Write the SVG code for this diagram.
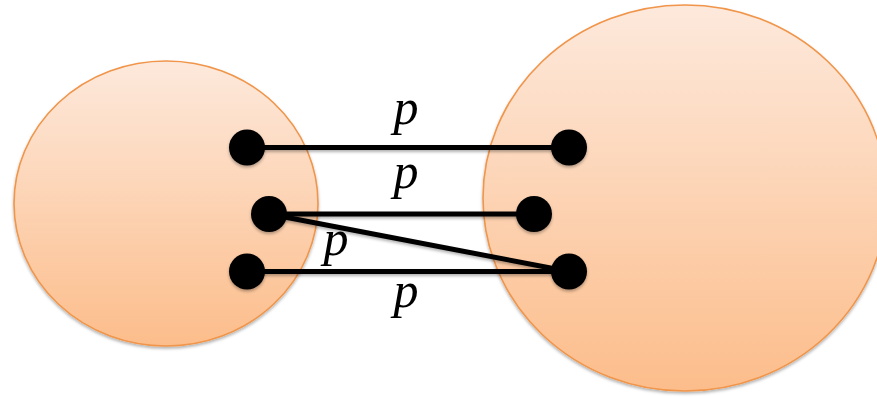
<svg xmlns="http://www.w3.org/2000/svg" width="877" height="397" viewBox="0 0 877 397">
<style>
.blob{stroke:#f0954a;stroke-width:1.6;filter:url(#sh)}
.dot{fill:#000;filter:url(#sh)}
.edge{stroke:#000;stroke-width:5;fill:none;filter:url(#sh)}
.lbl{font-family:"Liberation Serif","Times New Roman",serif;font-style:italic;font-size:50px;fill:#000;text-anchor:middle}
</style>
<defs>
<linearGradient id="g" x1="0" y1="0" x2="0" y2="1">
<stop offset="0" stop-color="#fde9dc"/>
<stop offset="1" stop-color="#fcbd8b"/>
</linearGradient>
<filter id="sh" filterUnits="userSpaceOnUse" x="0" y="0" width="877" height="397">
<feDropShadow dx="0" dy="2" stdDeviation="1.8" flood-color="#000" flood-opacity="0.3"/>
</filter>
</defs>
<g id="setA"><ellipse class="blob" cx="166" cy="203.5" rx="152" ry="142.5" fill="url(#g)"/></g>
<g id="setB"><ellipse class="blob" cx="685" cy="198" rx="202" ry="193" fill="url(#g)"/></g>
<g id="connectors">
<line class="edge" x1="247" y1="147.5" x2="569" y2="147.5"/>
<line class="edge" x1="269" y1="214" x2="534" y2="214"/>
<line class="edge" x1="269" y1="214" x2="569" y2="271.5"/>
<line class="edge" x1="247" y1="271.5" x2="569" y2="271.5"/>
</g>
<g id="a1"><circle class="dot" cx="247" cy="147.5" r="18"/></g>
<g id="a2"><circle class="dot" cx="269" cy="214" r="18"/></g>
<g id="a3"><circle class="dot" cx="247" cy="271.5" r="18"/></g>
<g id="b1"><circle class="dot" cx="569" cy="147.5" r="18"/></g>
<g id="b2"><circle class="dot" cx="534" cy="214" r="18"/></g>
<g id="b3"><circle class="dot" cx="569" cy="271.5" r="18"/></g>
<g id="labels">
<text class="lbl" x="406" y="124">p</text>
<text class="lbl" x="406" y="188">p</text>
<text class="lbl" x="336" y="255">p</text>
<text class="lbl" x="406" y="307">p</text>
</g>
</svg>
